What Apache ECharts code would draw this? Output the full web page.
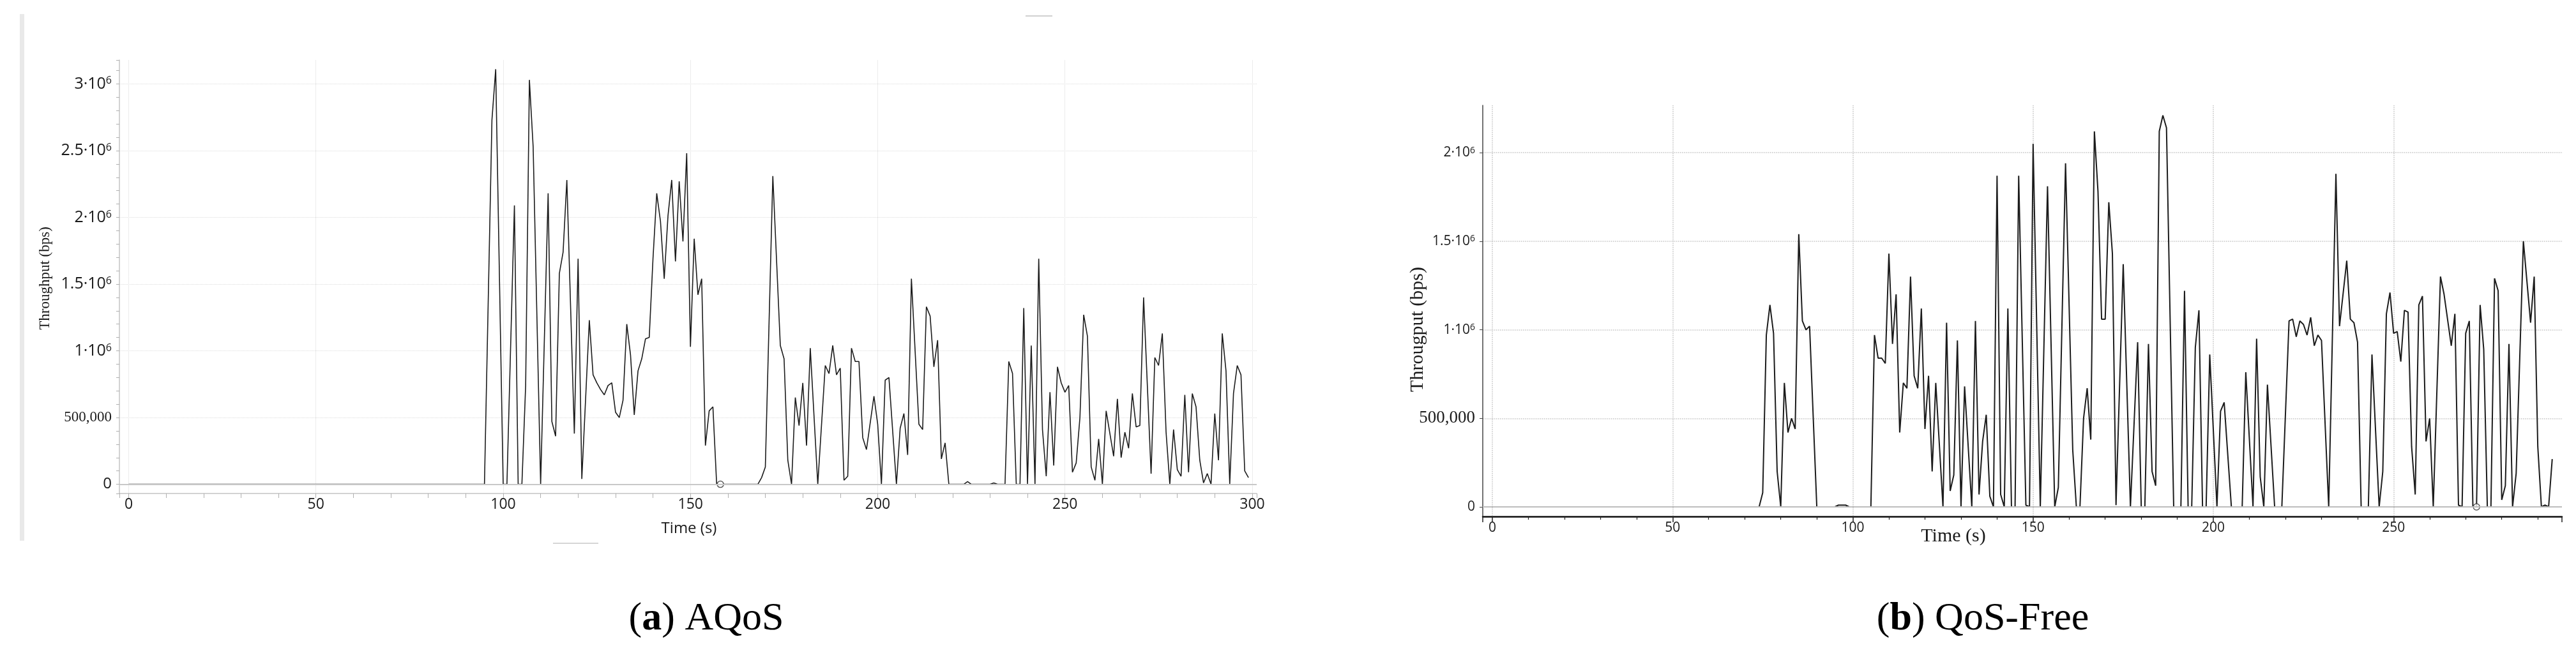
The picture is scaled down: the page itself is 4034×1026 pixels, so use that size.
<!DOCTYPE html>
<html>
<head>
<meta charset="utf-8">
<script src="https://cdn.jsdelivr.net/npm/echarts@6/dist/echarts.min.js"></script>
<style>
  html, body { margin: 0; padding: 0; background: #fff; }
  #main { width: 4034px; height: 1026px; }
</style>
</head>
<body>
<div id="main"></div>
<script>
// (a) AQoS: time (s) and throughput (Mbps)
const aqosTime = [0, 95, 97, 98, 100, 101, 103, 104, 105, 106, 107, 108, 110, 112, 113, 114, 115, 116, 117, 119,
  120, 121, 123, 124, 125, 126, 127, 128, 129, 130, 131, 132, 133, 134, 135, 136, 137, 138, 139,
  140, 141, 142, 143, 144, 145, 146, 147, 148, 149, 150, 151, 152, 153, 154, 155, 156, 157, 158,
  168, 169, 170, 172, 174, 175, 176, 177, 178, 179, 180, 181, 182, 184, 186, 187, 188, 189,
  190, 191, 192, 193, 194, 195, 196, 197, 199, 200, 201, 202, 203, 205, 206, 207, 208, 209,
  211, 212, 213, 214, 215, 216, 217, 218, 219, 223, 224, 225, 230, 231, 232, 234,
  235, 236, 237, 238, 239, 240, 241, 242, 243, 244, 245, 246, 247, 248, 249,
  250, 251, 252, 253, 254, 255, 256, 257, 258, 259, 260, 261, 263, 264, 265, 266, 267, 268, 269,
  270, 271, 273, 274, 275, 276, 277, 278, 279, 280, 281, 282, 283, 284, 285, 286, 287, 288, 289,
  290, 291, 292, 293, 294, 295, 296, 297, 298, 299];
const aqosRate = [0, 0, 2.73, 3.11, 0, 0, 2.09, 0, 0, 0.74, 3.03, 2.53, 0, 2.18, 0.47, 0.36, 1.58, 1.74, 2.28, 0.38,
  1.69, 0.04, 1.23, 0.82, 0.76, 0.71, 0.67, 0.74, 0.76, 0.54, 0.50, 0.63, 1.20, 0.97, 0.52, 0.85, 0.94, 1.09, 1.10,
  1.69, 2.18, 1.97, 1.54, 2.01, 2.28, 1.67, 2.27, 1.82, 2.48, 1.03, 1.84, 1.42, 1.54, 0.29, 0.55, 0.58, 0, 0,
  0, 0.05, 0.13, 2.31, 1.04, 0.94, 0.18, 0, 0.65, 0.44, 0.76, 0.29, 1.02, 0, 0.89, 0.83, 1.04, 0.82,
  0.87, 0.03, 0.06, 1.02, 0.92, 0.92, 0.35, 0.26, 0.66, 0.45, 0, 0.78, 0.80, 0, 0.42, 0.53, 0.22, 1.54,
  0.45, 0.41, 1.33, 1.26, 0.88, 1.08, 0.19, 0.31, 0, 0, 0.02, 0, 0, 0.01, 0, 0,
  0.92, 0.83, 0, 0, 1.32, 0, 1.04, 0, 1.69, 0.41, 0.06, 0.69, 0.14, 0.88, 0.76,
  0.69, 0.74, 0.09, 0.16, 0.50, 1.27, 1.11, 0.13, 0.03, 0.34, 0, 0.55, 0.21, 0.64, 0.20, 0.39, 0.27, 0.68, 0.43,
  0.44, 1.40, 0.08, 0.95, 0.89, 1.13, 0.39, 0, 0.41, 0.11, 0.06, 0.67, 0.09, 0.68, 0.58, 0.18, 0.01, 0.08, 0,
  0.53, 0.18, 1.13, 0.85, 0, 0.68, 0.89, 0.82, 0.10, 0.05];
const aqosCursor = [158, 0];

// (b) QoS-Free
const freeTime = [0, 74, 75, 76, 77, 78, 79, 80, 81, 82, 83, 84, 85, 86, 87, 88, 90, 95, 96, 98, 99, 105,
  106, 107, 108, 109, 110, 111, 112, 113, 114, 115, 116, 117, 118, 119, 120, 121, 122, 123, 125,
  126, 127, 128, 129, 130, 131, 133, 134, 135, 136, 137, 138, 139, 140, 141, 142, 143, 144, 145,
  146, 148, 149, 150, 152, 154, 156, 157, 159, 161, 162, 163, 164, 165, 166, 167, 168, 169,
  170, 171, 172, 173, 175, 177, 179, 180, 181, 182, 183, 184, 185, 186, 187, 189, 191, 192,
  193, 194, 195, 196, 197, 198, 199, 201, 202, 203, 205, 208, 209, 211, 212, 213, 214, 215,
  217, 219, 221, 222, 223, 224, 225, 226, 227, 228, 229, 230, 232, 234, 235, 237, 238, 239,
  240, 241, 243, 244, 246, 247, 248, 249, 250, 251, 252, 253, 254, 255, 256, 257, 258, 259,
  260, 261, 263, 264, 266, 267, 268, 269, 270, 271, 272, 273, 274, 275, 276, 277, 278, 279,
  280, 281, 282, 283, 284, 286, 288, 289, 290, 291, 292, 293, 294];
const freeRate = [0, 0, 0.08, 0.97, 1.14, 0.98, 0.20, 0, 0.70, 0.42, 0.50, 0.44, 1.54, 1.05, 1.00, 1.02, 0, 0, 0.01, 0.01, 0, 0,
  0.97, 0.84, 0.84, 0.81, 1.43, 0.92, 1.20, 0.42, 0.70, 0.67, 1.30, 0.74, 0.67, 1.12, 0.44, 0.74, 0.20, 0.70, 0,
  1.04, 0.09, 0.18, 0.94, 0, 0.68, 0, 1.05, 0.07, 0.37, 0.52, 0.06, 0, 1.87, 0.07, 0, 1.12, 0, 0,
  1.87, 0.01, 0, 2.05, 0, 1.81, 0, 0.11, 1.94, 0.32, 0, 0, 0.50, 0.67, 0.38, 2.12, 1.78, 1.06,
  1.06, 1.72, 1.43, 0.01, 1.37, 0, 0.93, 0, 0, 0.92, 0.20, 0.12, 2.12, 2.21, 2.14, 0, 0, 1.22,
  0, 0, 0.90, 1.11, 0, 0, 0.86, 0, 0.54, 0.59, 0, 0, 0.76, 0, 0.95, 0.17, 0, 0.69,
  0, 0, 1.05, 1.06, 0.96, 1.05, 1.03, 0.97, 1.07, 0.91, 0.97, 0.94, 0, 1.88, 1.02, 1.39, 1.06, 1.04,
  0.93, 0, 0, 0.86, 0, 0.20, 1.09, 1.21, 0.98, 0.99, 0.82, 1.11, 1.10, 0.34, 0.07, 1.14, 1.19, 0.37,
  0.50, 0, 1.30, 1.20, 0.91, 1.09, 0.01, 0, 0.98, 1.05, 0, 0, 1.14, 0.89, 0, 0, 1.29, 1.22,
  0.04, 0.12, 0.92, 0, 0.19, 1.50, 1.04, 1.30, 0.34, 0, 0.01, 0, 0.27];
const freeCursor = [273, 0];

const captionLetters = ['a', 'b'];
const captionTexts = ['AQoS', 'QoS-Free'];

const pairs = (xs, ys) => xs.map((t, i) => [t, ys[i]]);

function tickLabel(v) {
  if (Math.abs(v) < 1e-9) return '{z|0}';
  if (Math.abs(v - 0.5) < 1e-9) return '{s|500,000}';
  return '{m|' + (+v.toFixed(1)) + '·10}{p|6}';
}

const SANS = '"Open Sans", "Noto Sans", sans-serif';
const SERIF = '"Liberation Serif", "DejaVu Serif", serif';

const chart = echarts.init(document.getElementById('main'), null, { renderer: 'canvas' });

const option = {
  backgroundColor: '#fff',
  animation: false,
  grid: [
    { left: 187, top: 94, width: 1781, height: 679 },
    { left: 2322, top: 165, width: 1690, height: 644 },
  ],
  xAxis: [
    {
      type: 'value', gridIndex: 0, min: -2.47, max: 301.2,
      axisLine: { onZero: false, lineStyle: { color: '#c4c4c4', width: 1.5 } },
      axisTick: { show: true, length: 7, lineStyle: { color: '#b0b0b0' } },
      minorTick: { show: true, splitNumber: 5, length: 7, lineStyle: { color: '#b0b0b0' } },
      axisLabel: { margin: 6, showMinLabel: false, showMaxLabel: false,
        fontFamily: SANS, fontSize: 23, color: '#1a1a1a' },
      splitLine: { show: true, showMinLine: false, showMaxLine: false,
        lineStyle: { color: '#ececec', width: 1, type: 'solid' } },
    },
    {
      type: 'value', gridIndex: 1, min: -2.66, max: 296.7,
      axisLine: { onZero: false, lineStyle: { color: '#111', width: 2.5 } },
      axisTick: { show: true, length: 9, lineStyle: { color: '#222', width: 1.5 } },
      minorTick: { show: true, splitNumber: 5, length: 5, lineStyle: { color: '#222', width: 1.2 } },
      axisLabel: { margin: 8, showMinLabel: false, showMaxLabel: false,
        fontFamily: SANS, fontSize: 21, color: '#1a1a1a' },
      splitLine: { show: true, showMinLine: false, showMaxLine: false,
        lineStyle: { color: '#c4c4c4', width: 1.5, type: 'dotted' } },
    },
  ],
  yAxis: [
    {
      type: 'value', gridIndex: 0, min: -0.069, max: 3.179,
      axisLine: { show: true, onZero: false, lineStyle: { color: '#c4c4c4', width: 1.5 } },
      axisTick: { show: true, length: 5, lineStyle: { color: '#b0b0b0' } },
      minorTick: { show: true, splitNumber: 5, length: 5, lineStyle: { color: '#b0b0b0' } },
      axisLabel: {
        margin: 12, showMinLabel: false, showMaxLabel: false, formatter: tickLabel,
        rich: {
          z: { fontFamily: SANS, fontSize: 24, color: '#1a1a1a' },
          m: { fontFamily: SANS, fontSize: 25, color: '#1a1a1a', verticalAlign: 'bottom' },
          p: { fontFamily: SANS, fontSize: 16, color: '#1a1a1a', verticalAlign: 'top' },
          s: { fontFamily: SERIF, fontSize: 23, color: '#1a1a1a' },
        },
      },
      splitLine: { show: true, showMinLine: false, showMaxLine: false,
        lineStyle: { color: '#dcdcdc', width: 1, type: 'dotted' } },
    },
    {
      type: 'value', gridIndex: 1, min: -0.054, max: 2.267,
      axisLine: { show: true, onZero: false, lineStyle: { color: '#444', width: 1.5 } },
      axisTick: { show: true, length: 5, lineStyle: { color: '#444' } },
      axisLabel: {
        margin: 12, showMinLabel: false, showMaxLabel: false, formatter: tickLabel,
        rich: {
          z: { fontFamily: SANS, fontSize: 21, color: '#1a1a1a' },
          m: { fontFamily: SANS, fontSize: 21, color: '#1a1a1a', verticalAlign: 'bottom' },
          p: { fontFamily: SANS, fontSize: 14, color: '#1a1a1a', verticalAlign: 'top' },
          s: { fontFamily: SERIF, fontSize: 27, color: '#1a1a1a' },
        },
      },
      splitLine: { show: true, showMinLine: false, showMaxLine: false,
        lineStyle: { color: '#c4c4c4', width: 1.5, type: 'dotted' } },
    },
  ],
  series: [
    {
      type: 'line', xAxisIndex: 0, yAxisIndex: 0, data: pairs(aqosTime, aqosRate),
      showSymbol: false, lineStyle: { color: '#1c1c1c', width: 1.6 },
      markLine: { silent: true, symbol: 'none', label: { show: false },
        lineStyle: { color: '#c8c8c8', width: 2, type: 'solid' }, data: [{ yAxis: 0 }] },
      z: 3,
    },
    {
      type: 'scatter', xAxisIndex: 0, yAxisIndex: 0, data: [aqosCursor],
      symbol: 'circle', symbolSize: 10,
      itemStyle: { color: '#fff', borderColor: '#333', borderWidth: 1.5 }, z: 4,
    },
    {
      type: 'line', xAxisIndex: 1, yAxisIndex: 1, data: pairs(freeTime, freeRate),
      showSymbol: false, lineStyle: { color: '#1c1c1c', width: 2 },
      markLine: { silent: true, symbol: 'none', label: { show: false },
        lineStyle: { color: '#bdbdbd', width: 2, type: 'solid' }, data: [{ yAxis: 0 }] },
      z: 3,
    },
    {
      type: 'scatter', xAxisIndex: 1, yAxisIndex: 1, data: [freeCursor],
      symbol: 'circle', symbolSize: 10,
      itemStyle: { color: '#fff', borderColor: '#333', borderWidth: 1.5 }, z: 4,
    },
  ],
  graphic: [
    // grey strip on the left edge of the screenshot
    { type: 'rect', left: 31, top: 22, shape: { width: 7, height: 825 }, style: { fill: '#e9e9e9' } },
    { type: 'line', shape: { x1: 866, y1: 851, x2: 937, y2: 851 }, style: { stroke: '#d5d5d5', lineWidth: 2 } },
    { type: 'line', shape: { x1: 1606, y1: 25, x2: 1648, y2: 25 }, style: { stroke: '#d0d0d0', lineWidth: 2 } },
    // axis names
    { type: 'text', x: 71, y: 436, rotation: Math.PI / 2,
      style: { text: 'Throughput (bps)', fontFamily: SERIF, fontSize: 23, fill: '#1a1a1a', align: 'center', verticalAlign: 'middle' } },
    { type: 'text', x: 1079, y: 828,
      style: { text: 'Time (s)', fontFamily: SANS, fontSize: 24, fill: '#1a1a1a', align: 'center', verticalAlign: 'middle' } },
    { type: 'text', x: 2220, y: 516, rotation: Math.PI / 2,
      style: { text: 'Througput (bps)', fontFamily: SERIF, fontSize: 30, fill: '#1a1a1a', align: 'center', verticalAlign: 'middle' } },
    { type: 'text', x: 3059, y: 840,
      style: { text: 'Time (s)', fontFamily: SERIF, fontSize: 30, fill: '#1a1a1a', align: 'center', verticalAlign: 'middle' } },
    // captions
    ...captionLetters.map((c, i) => ({
      type: 'text', x: i === 0 ? 1106 : 3105, y: 970,
      style: {
        text: '{n|(}{b|' + c + '}{n|) ' + captionTexts[i] + '}',
        align: 'center', verticalAlign: 'middle',
        rich: {
          n: { fontFamily: SERIF, fontSize: 62, fill: '#000' },
          b: { fontFamily: SERIF, fontSize: 62, fontWeight: 'bold', fill: '#000' },
        },
      },
    })),
  ],
};

chart.setOption(option);
</script>
</body>
</html>
